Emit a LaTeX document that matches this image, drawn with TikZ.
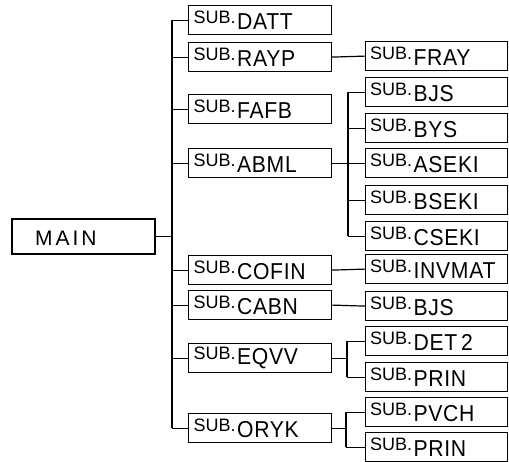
\documentclass[tikz,border=0pt]{standalone}
\usepackage{fontspec}
\setmainfont{Liberation Sans}
\newfontfamily\subf{Liberation Sans}
\newfontfamily\namef[LetterSpace=3,FakeStretch=0.92]{Liberation Sans}
\newfontfamily\mainf[LetterSpace=14]{Liberation Sans}
\newcommand\sblabel[1]{\raisebox{5.5pt}{\fontsize{18}{19}\selectfont\subf SUB.}\hspace{1.5pt}{\fontsize{23}{24}\selectfont\namef #1}}
\tikzset{
  sbox/.style={draw, line width=1.2pt, anchor=north west, minimum height=29pt,
    text width=133pt, inner xsep=4.5pt, inner ysep=0pt, align=left},
  lvone/.style={sbox, minimum width=143pt},
  lvtwo/.style={sbox, minimum width=142pt},
  mainbox/.style={draw, line width=1.8pt, anchor=north west, minimum width=143pt, minimum height=35pt, inner sep=0pt},
  conn/.style={line width=1.2pt}
}
\begin{document}
\begin{tikzpicture}[x=1pt,y=-1pt]
\useasboundingbox (0,0) rectangle (509,461);
% main
\node[mainbox] (main) at (11,218) {};
\node[anchor=base west, inner sep=0pt, font=\fontsize{21}{22}\selectfont\mainf] (maintxt) at (35,245) {MAIN};
% level 1
\node[lvone] (datt)  at (188,5)   {\sblabel{DATT}};
\node[lvone] (rayp)  at (188,42)  {\sblabel{RAYP}};
\node[lvone] (fafb)  at (188,94)  {\sblabel{FAFB}};
\node[lvone] (abml)  at (188,148) {\sblabel{ABML}};
\node[lvone] (cofin) at (188,255) {\sblabel{COFIN}};
\node[lvone] (cabn)  at (188,290) {\sblabel{CABN}};
\node[lvone] (eqvv)  at (188,343) {\sblabel{EQVV}};
\node[lvone] (oryk)  at (188,413) {\sblabel{ORYK}};
% level 2
\node[lvtwo] (fray)   at (365,41)  {\sblabel{FRAY}};
\node[lvtwo] (bjsa)   at (365,77)  {\sblabel{BJS}};
\node[lvtwo] (bys)    at (365,113) {\sblabel{BYS}};
\node[lvtwo] (aseki)  at (365,148) {\sblabel{ASEKI}};
\node[lvtwo] (bseki)  at (365,185) {\sblabel{BSEKI}};
\node[lvtwo] (cseki)  at (365,221) {\sblabel{CSEKI}};
\node[lvtwo] (invmat) at (365,254) {\sblabel{INVMAT}};
\node[lvtwo] (bjsb)   at (365,291) {\sblabel{BJS}};
\node[lvtwo] (det)    at (365,326) {\sblabel{DET\,2}};
\node[lvtwo] (prina)  at (365,362) {\sblabel{PRIN}};
\node[lvtwo] (pvch)   at (365,397) {\sblabel{PVCH}};
\node[lvtwo] (prinb)  at (365,432) {\sblabel{PRIN}};
% trunk coordinates
\coordinate (ta) at (172,0);
\coordinate (tb) at (348,0);
\coordinate (tc) at (347,0);
\coordinate (td) at (346,0);
% main connectors
\draw[conn] (main.east) -- (main.east -| ta);
\draw[conn] (datt.west -| ta) -- (oryk.west -| ta);
\foreach \n in {datt,rayp,fafb,abml,cofin,cabn,eqvv,oryk}
  \draw[conn] (\n.west -| ta) -- (\n.west);
% level 2 connectors
\draw[conn] (rayp.east) -- (fray.west);
\draw[conn] (cofin.east) -- (invmat.west);
\draw[conn] (cabn.east) -- (bjsb.west);
\draw[conn] (abml.east) -- (abml.east -| tb);
\draw[conn] (bjsa.west -| tb) -- (cseki.west -| tb);
\foreach \n in {bjsa,bys,aseki,bseki,cseki}
  \draw[conn] (\n.west -| tb) -- (\n.west);
\draw[conn] (eqvv.east) -- (eqvv.east -| tc);
\draw[conn] (det.west -| tc) -- (prina.west -| tc);
\foreach \n in {det,prina}
  \draw[conn] (\n.west -| tc) -- (\n.west);
\draw[conn] (oryk.east) -- (oryk.east -| td);
\draw[conn] (pvch.west -| td) -- (prinb.west -| td);
\foreach \n in {pvch,prinb}
  \draw[conn] (\n.west -| td) -- (\n.west);
\end{tikzpicture}
\end{document}
